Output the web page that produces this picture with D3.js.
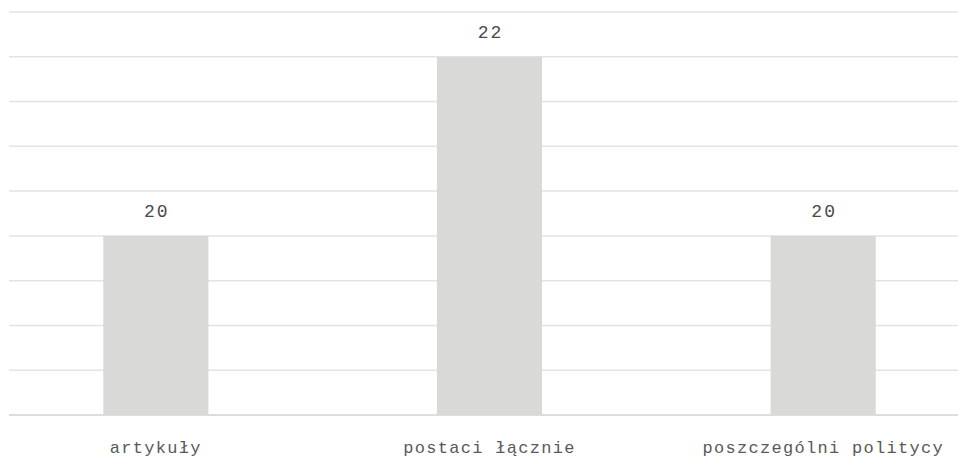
<!DOCTYPE html>
<html>
<head>
<meta charset="utf-8">
<script src="https://cdn.jsdelivr.net/npm/d3@7"></script>
<style>
  body { margin: 0; background: #fff; overflow: hidden; }
  .value { font-family: "Liberation Mono", monospace; font-size: 18px; fill: #4a4a4a; letter-spacing: 2px; }
  .cat { font-family: "Liberation Mono", monospace; font-size: 17px; fill: #595959; letter-spacing: 1.3px; }
</style>
</head>
<body>
<svg id="chart" width="958" height="460"></svg>
<script>
// values
const categories = ["artykuły", "postaci łącznie", "poszczególni politycy"];
const counts = [20, 22, 20];
const grid_ticks = [18, 18.5, 19, 19.5, 20, 20.5, 21, 21.5, 22, 22.5];

const svg = d3.select("#chart");
const base_y = 415, top_y = 12;

// the plot is cropped on both sides, so the band range runs past the picture
const x = d3.scaleBand()
    .domain(categories)
    .range([-11, 990])
    .paddingInner(0.685)
    .paddingOuter(0.3425);

const y = d3.scaleLinear()
    .domain([18, 22.5])
    .range([base_y, top_y]);

// gridlines
svg.append("g")
    .selectAll("line")
    .data(grid_ticks)
    .join("line")
    .attr("x1", 9)
    .attr("x2", 958)
    .attr("y1", d => y(d))
    .attr("y2", d => y(d))
    .attr("stroke", "#e3e3e3")
    .attr("stroke-width", 1.5);

// bars
svg.append("g")
    .selectAll("rect")
    .data(counts)
    .join("rect")
    .attr("x", (d, i) => x(categories[i]))
    .attr("width", x.bandwidth())
    .attr("y", d => y(d))
    .attr("height", d => y(18) - y(d))
    .attr("fill", "#d9d9d7");

// baseline drawn over the bars
svg.append("line")
    .attr("x1", 9).attr("x2", 958)
    .attr("y1", base_y).attr("y2", base_y)
    .attr("stroke", "#d9d9d9")
    .attr("stroke-width", 1.5);

// value labels
svg.append("g")
    .selectAll("text")
    .data(counts)
    .join("text")
    .attr("class", "value")
    .attr("x", (d, i) => x(categories[i]) + x.bandwidth() / 2 + 1)
    .attr("y", d => y(d) - 19)
    .attr("text-anchor", "middle")
    .text(d => d);

// category labels
svg.append("g")
    .selectAll("text")
    .data(categories)
    .join("text")
    .attr("class", "cat")
    .attr("x", d => x(d) + x.bandwidth() / 2)
    .attr("y", 453)
    .attr("text-anchor", "middle")
    .text(d => d);
</script>
</body>
</html>
